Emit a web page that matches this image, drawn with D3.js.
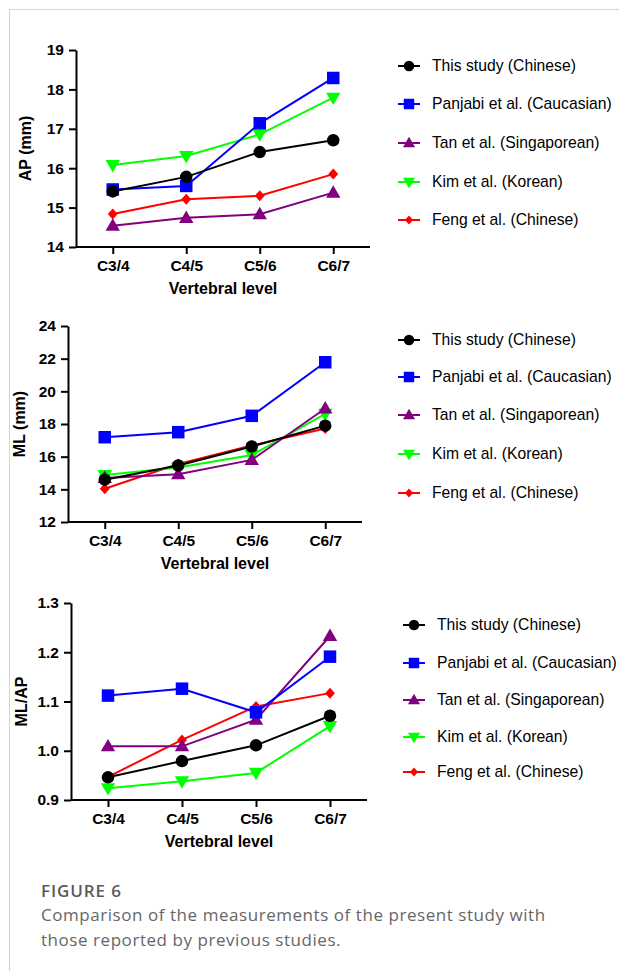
<!DOCTYPE html>
<html>
<head>
<meta charset="utf-8">
<script src="https://cdn.jsdelivr.net/npm/d3@7"></script>
<style>
  body { margin: 0; background: #fff; }
  svg { display: block; }
</style>
</head>
<body>
<div id="main"></div>
<script>
// data
const levels = ["C3/4", "C4/5", "C5/6", "C6/7"];
const studies = ["This study (Chinese)", "Panjabi et al. (Caucasian)", "Tan et al. (Singaporean)", "Kim et al. (Korean)", "Feng et al. (Chinese)"];

const apThis    = [15.41, 15.78, 16.41, 16.71];
const apPanjabi = [15.46, 15.55, 17.14, 18.29];
const apTan     = [14.54, 14.74, 14.83, 15.38];
const apKim     = [16.08, 16.31, 16.86, 17.79];
const apFeng    = [14.84, 15.21, 15.30, 15.85];

const mlThis    = [14.59, 15.46, 16.62, 17.90];
const mlPanjabi = [17.19, 17.50, 18.50, 21.78];
const mlTan     = [14.70, 14.92, 15.80, 18.95];
const mlKim     = [14.88, 15.33, 16.10, 18.62];
const mlFeng    = [14.04, 15.55, 16.68, 17.72];

const ratioThis    = [0.946, 0.979, 1.011, 1.071];
const ratioPanjabi = [1.112, 1.126, 1.078, 1.191];
const ratioTan     = [1.009, 1.009, 1.063, 1.233];
const ratioKim     = [0.924, 0.938, 0.955, 1.050];
const ratioFeng    = [0.947, 1.022, 1.090, 1.117];

const apTicks = [14, 15, 16, 17, 18, 19];
const mlTicks = [12, 14, 16, 18, 20, 22, 24];
const ratioTicks = [0.9, 1.0, 1.1, 1.2, 1.3];

const colors = ["#000000", "#0000ff", "#800080", "#00ff00", "#ff0000"];

// marker shapes
const triUp = {
    draw(ctx, s) {
        ctx.moveTo(0, -s * 0.62); ctx.lineTo(s * 0.6, s * 0.42); ctx.lineTo(-s * 0.6, s * 0.42); ctx.closePath();
    }
};
const triDown = {
    draw(ctx, s) {
        ctx.moveTo(0, s * 0.62); ctx.lineTo(s * 0.6, -s * 0.42); ctx.lineTo(-s * 0.6, -s * 0.42); ctx.closePath();
    }
};
const diamond = {
    draw(ctx, s) {
        ctx.moveTo(0, -s * 0.5); ctx.lineTo(s * 0.45, 0); ctx.lineTo(0, s * 0.5); ctx.lineTo(-s * 0.45, 0); ctx.closePath();
    }
};
const circ = { draw(ctx, s) { ctx.arc(0, 0, s / 2, 0, 2 * Math.PI); } };
const sq = { draw(ctx, s) { ctx.rect(-s / 2, -s / 2, s, s); } };
const shapes = [circ, sq, triUp, triDown, diamond];
const markSize = [12.5, 12.5, 12, 12, 11];

const W = 619, H = 971;
const svg = d3.select("#main").append("svg")
    .attr("width", W)
    .attr("height", H);

// light frame
svg.append("line").attr("x1", 9.5).attr("x2", W).attr("y1", 9.5).attr("y2", 9.5)
    .style("stroke", "#d4d4d4").style("stroke-width", 1);
svg.append("line").attr("x1", 9.5).attr("x2", 9.5).attr("y1", 9.5).attr("y2", H)
    .style("stroke", "#d4d4d4").style("stroke-width", 1);

const fontMain = "Arial, 'Liberation Sans', Helvetica, sans-serif";

function drawPanel(p) {
    const x = d3.scalePoint().domain(levels).range([p.x0, p.x1]).padding(0.5);
    const y = d3.scaleLinear().domain(p.domain).range([p.yBottom, p.yTop]);
    const g = svg.append("g");

    // y axis
    const yAxis = g.append("g")
        .attr("transform", `translate(${p.x0},0)`)
        .call(d3.axisLeft(y).tickValues(p.ticks).tickFormat(p.fmt).tickSize(7).tickSizeOuter(0).tickPadding(5));
    // x axis
    const xAxis = g.append("g")
        .attr("transform", `translate(0,${p.yBottom})`)
        .call(d3.axisBottom(x).tickSize(7).tickSizeOuter(0).tickPadding(6));
    [yAxis, xAxis].forEach(a => {
        a.attr("font-family", null);
        a.select(".domain").style("stroke", "#000").style("stroke-width", 2);
        a.selectAll(".tick line").style("stroke", "#000").style("stroke-width", 2);
        a.selectAll(".tick text")
            .style("font-family", fontMain).style("font-weight", "bold")
            .style("font-size", "15.5px").style("fill", "#000");
    });
    // x axis runs from the y axis
    xAxis.select(".domain").attr("d", `M${p.x0},0H${p.x1}`);

    g.append("text")
        .attr("x", (p.x0 + p.x1) / 2)
        .attr("y", p.yBottom + 47)
        .style("text-anchor", "middle")
        .style("font-family", fontMain).style("font-weight", "bold").style("font-size", "16px")
        .text("Vertebral level");

    g.append("text")
        .attr("transform", `translate(${p.yLabelX},${(p.yTop + p.yBottom) / 2}) rotate(-90)`)
        .attr("dy", "0.35em")
        .style("text-anchor", "middle")
        .style("font-family", fontMain).style("font-weight", "bold").style("font-size", "16px")
        .text(p.yLabel);

    const line = d3.line().x((d, i) => x(levels[i])).y(d => y(d));

    // draw last series first so "This study" ends up on top
    for (let s = p.series.length - 1; s >= 0; s--) {
        const vals = p.series[s];
        g.append("path")
            .attr("d", line(vals))
            .style("fill", "none")
            .style("stroke", colors[s])
            .style("stroke-width", 2);
        g.selectAll(null)
            .data(vals)
            .join("path")
            .attr("transform", (d, i) => `translate(${x(levels[i])},${y(d)})`)
            .attr("d", d3.symbol().type(shapes[s]).size(markSize[s]))
            .style("fill", colors[s]);
    }

    // legend
    const lg = g.append("g");
    studies.forEach((name, s) => {
        const ly = p.legendY[s];
        lg.append("line")
            .attr("x1", p.legendX - 11).attr("x2", p.legendX + 11)
            .attr("y1", ly).attr("y2", ly)
            .style("stroke", colors[s]).style("stroke-width", 2);
        lg.append("path")
            .attr("transform", `translate(${p.legendX},${ly})`)
            .attr("d", d3.symbol().type(shapes[s]).size(markSize[s] - 2))
            .style("fill", colors[s]);
        lg.append("text")
            .attr("x", p.legendX + 23)
            .attr("y", ly)
            .attr("dy", "0.35em")
            .style("font-family", fontMain).style("font-size", "15.7px").style("fill", "#000")
            .text(name);
    });
}

drawPanel({
    x0: 76, x1: 370, yTop: 50, yBottom: 247, domain: [14, 19], ticks: apTicks,
    fmt: d3.format("d"), yLabel: "AP (mm)", yLabelX: 25,
    series: [apThis, apPanjabi, apTan, apKim, apFeng],
    legendX: 409, legendY: [66, 104, 143, 182, 220]
});

drawPanel({
    x0: 68, x1: 362, yTop: 326, yBottom: 522, domain: [12, 24], ticks: mlTicks,
    fmt: d3.format("d"), yLabel: "ML (mm)", yLabelX: 19,
    series: [mlThis, mlPanjabi, mlTan, mlKim, mlFeng],
    legendX: 409, legendY: [340, 377, 415, 454, 493]
});

drawPanel({
    x0: 71, x1: 367, yTop: 603, yBottom: 800, domain: [0.9, 1.3], ticks: ratioTicks,
    fmt: d3.format(".1f"), yLabel: "ML/AP", yLabelX: 21,
    series: [ratioThis, ratioPanjabi, ratioTan, ratioKim, ratioFeng],
    legendX: 414, legendY: [625, 663, 700, 737, 772]
});

// caption
const capFont = "'Open Sans', 'Noto Sans', sans-serif";
svg.append("text")
    .attr("x", 41).attr("y", 897)
    .style("font-family", capFont).style("font-weight", 600).style("font-size", "17px")
    .style("letter-spacing", "0.9px")
    .style("fill", "#5a5a5a")
    .text("FIGURE 6");
svg.append("text")
    .attr("x", 41).attr("y", 921)
    .style("font-family", capFont).style("font-size", "17px")
    .style("letter-spacing", "0.55px")
    .style("fill", "#666")
    .text("Comparison of the measurements of the present study with");
svg.append("text")
    .attr("x", 41).attr("y", 946)
    .style("font-family", capFont).style("font-size", "17px")
    .style("letter-spacing", "0.55px")
    .style("fill", "#666")
    .text("those reported by previous studies.");
</script>
</body>
</html>
